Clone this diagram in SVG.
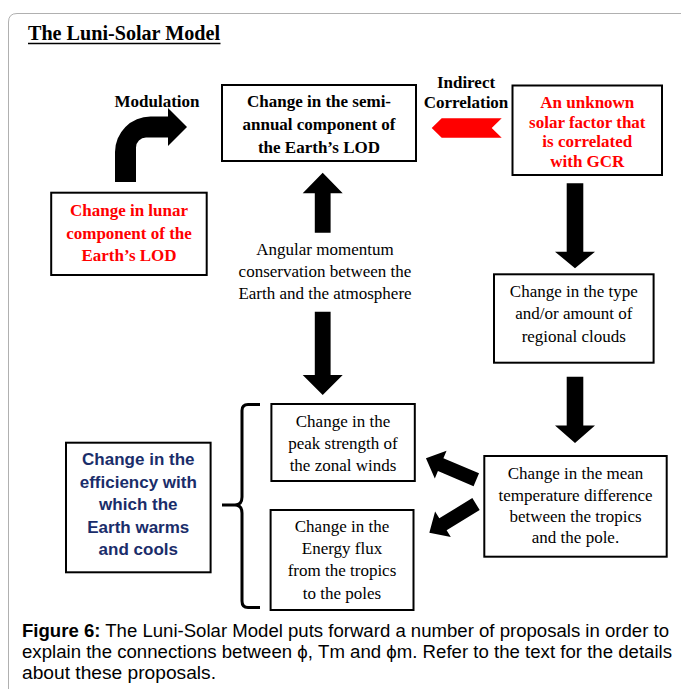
<svg xmlns="http://www.w3.org/2000/svg" width="681" height="689" viewBox="0 0 681 689">
<style>
.box{fill:#fff;stroke:#000;stroke-width:2}
.sb{font-family:"Liberation Serif","Times New Roman",serif;font-weight:bold;font-size:17px;text-anchor:middle;fill:#000}
.sr{font-family:"Liberation Serif","Times New Roman",serif;font-size:17px;text-anchor:middle;fill:#000}
.red{fill:#ff0000}
.blue{font-family:"Liberation Sans",Arial,sans-serif;font-weight:bold;font-size:17px;text-anchor:middle;fill:#1a2d6a}
.cap{font-family:"Liberation Sans",Arial,sans-serif;font-size:17.5px;fill:#000}
.arr{fill:#000}
</style>
<rect width="681" height="689" fill="#fff"/>
<path d="M8.5,689 V22 Q8.5,13.5 17,13.5 H681" fill="none" stroke="#b0b0b0" stroke-width="1"/>
<g id="title">
<text x="28" y="39.5" font-family="Liberation Serif,Times New Roman,serif" font-weight="bold" font-size="20" textLength="192" lengthAdjust="spacingAndGlyphs">The Luni-Solar Model</text>
<line x1="28" y1="43.5" x2="220.5" y2="43.5" stroke="#000" stroke-width="1.5"/>
</g>
<g id="node-semiannual">
<rect class="box" x="222" y="85" width="194" height="76"/>
<text class="sb" x="319" y="107.3">Change in the semi-</text>
<text class="sb" x="319" y="130">annual component of</text>
<text class="sb" x="319" y="152.7">the Earth’s LOD</text>
</g>
<g id="node-solar">
<rect class="box" x="512.5" y="85.5" width="149.5" height="89.5"/>
<text class="sb red" x="587.3" y="108">An unknown</text>
<text class="sb red" x="587.3" y="127.7">solar factor that</text>
<text class="sb red" x="587.3" y="147.3">is correlated</text>
<text class="sb red" x="587.3" y="167">with GCR</text>
</g>
<g id="node-lunar">
<rect class="box" x="51.2" y="192.7" width="155.5" height="82.3"/>
<text class="sb red" x="129" y="216">Change in lunar</text>
<text class="sb red" x="129" y="238.5">component of the</text>
<text class="sb red" x="129" y="261">Earth’s LOD</text>
</g>
<g id="node-clouds">
<rect class="box" x="494" y="274.3" width="159.6" height="88.4"/>
<text class="sr" x="573.8" y="297">Change in the type</text>
<text class="sr" x="573.8" y="319.4">and/or amount of</text>
<text class="sr" x="573.8" y="341.8">regional clouds</text>
</g>
<g id="node-winds">
<rect class="box" x="271.4" y="404" width="143.4" height="77"/>
<text class="sr" x="343" y="426.5">Change in the</text>
<text class="sr" x="343" y="448.5">peak strength of</text>
<text class="sr" x="343" y="470.5">the zonal winds</text>
</g>
<g id="node-flux">
<rect class="box" x="270.6" y="510" width="142.9" height="100"/>
<text class="sr" x="342" y="532">Change in the</text>
<text class="sr" x="342" y="554">Energy flux</text>
<text class="sr" x="342" y="576.3">from the tropics</text>
<text class="sr" x="342" y="598.5">to the poles</text>
</g>
<g id="node-temperature">
<rect class="box" x="484.3" y="456" width="182.4" height="100.7"/>
<text class="sr" x="575.5" y="479">Change in the mean</text>
<text class="sr" x="575.5" y="500.5">temperature difference</text>
<text class="sr" x="575.5" y="521.8">between the tropics</text>
<text class="sr" x="575.5" y="543">and the pole.</text>
</g>
<g id="node-efficiency">
<rect class="box" x="66" y="442.7" width="144.6" height="129.6"/>
<text class="blue" x="138.3" y="465">Change in the</text>
<text class="blue" x="138.3" y="487.5">efficiency with</text>
<text class="blue" x="138.3" y="510">which the</text>
<text class="blue" x="138.3" y="532.5">Earth warms</text>
<text class="blue" x="138.3" y="555">and cools</text>
</g>
<g id="connectors">
<path class="arr" d="M115,182 V152 A35.5,35.5 0 0 1 150.5,116.5 H168 V108 L187,127 L168,146 V137.5 H146 A10,10 0 0 0 136,147.5 V182 Z"/>
<text class="sb" x="157" y="106.7">Modulation</text>
<polygon fill="#ff0000" points="441.7,118.3 501.7,118.3 491.7,128 501.7,137.7 441.7,137.7 431.7,128"/>
<text class="sb" x="466" y="88.3" font-size="15">Indirect</text>
<text class="sb" x="466" y="108" font-size="15">Correlation</text>
<polygon class="arr" points="322.7,172.7 342.7,193.3 330.6,193.3 330.6,232.7 314.8,232.7 314.8,193.3 302.7,193.3"/>
<text class="sr" x="325" y="255">Angular momentum</text>
<text class="sr" x="325" y="277">conservation between the</text>
<text class="sr" x="325" y="299">Earth and the atmosphere</text>
<polygon class="arr" points="314.8,311.7 330.6,311.7 330.6,375 342.7,375 322.7,395 302.7,375 314.8,375"/>
<polygon class="arr" points="566.7,183.3 583.3,183.3 583.3,251.7 595,251.7 575,268.3 555,251.7 566.7,251.7"/>
<polygon class="arr" points="566.7,376.7 583.3,376.7 583.3,425.5 595,425.5 575,443 555,425.5 566.7,425.5"/>
<polygon class="arr" transform="translate(476.3,479.7) rotate(203)" points="0,-7 38.7,-7 38.7,-15 54.7,0 38.7,15 38.7,7 0,7"/>
<polygon class="arr" transform="translate(476,504) rotate(148.4)" points="0,-7 38.8,-7 38.8,-15 54.8,0 38.8,15 38.8,7 0,7"/>
<path d="M260,404.5 H248 Q242,404.5 242,410.5 V497 Q242,505 235,505 H222 M235,505 Q242,505 242,513 V601 Q242,607.5 248,607.5 H260" fill="none" stroke="#000" stroke-width="3"/>
</g>
<g id="caption">
<text class="cap" x="22" y="637.3" textLength="647" lengthAdjust="spacingAndGlyphs"><tspan font-weight="bold">Figure 6:</tspan> The Luni-Solar Model puts forward a number of proposals in order to</text>
<text class="cap" x="22" y="658.3" textLength="650" lengthAdjust="spacingAndGlyphs">explain the connections between ϕ, Tm and ϕm. Refer to the text for the details</text>
<text class="cap" x="22" y="679" textLength="194" lengthAdjust="spacingAndGlyphs">about these proposals.</text>
</g>
</svg>
